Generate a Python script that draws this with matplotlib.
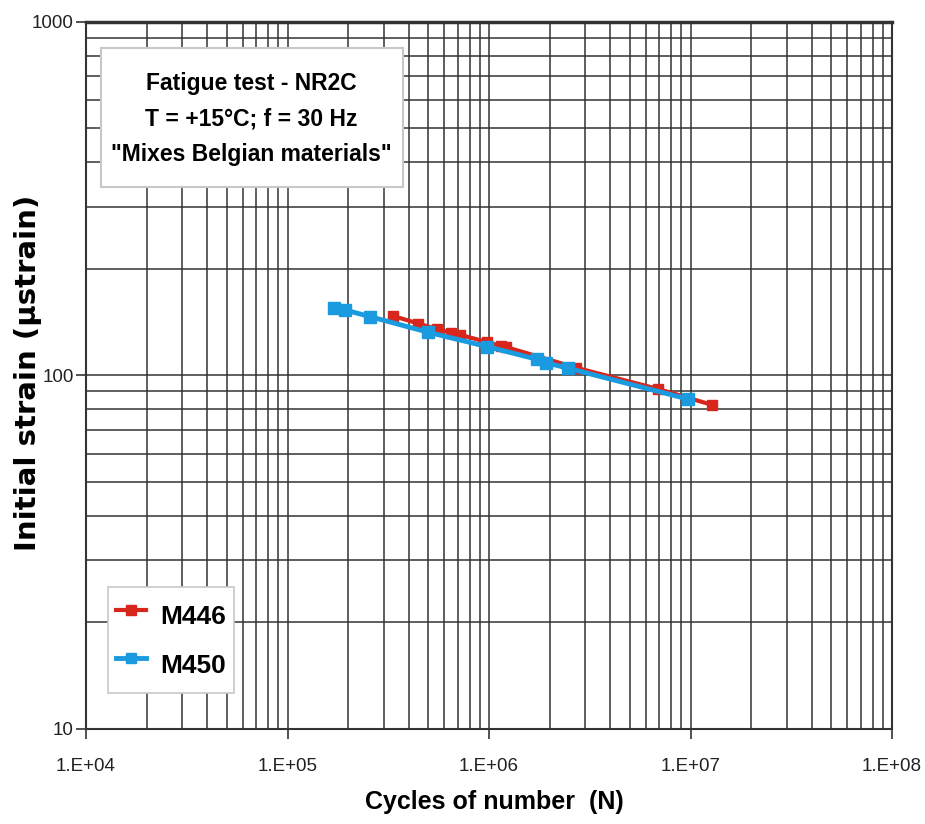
import matplotlib
matplotlib.use("Agg")
import matplotlib.pyplot as plt
from matplotlib.patches import Rectangle
from matplotlib.ticker import LogLocator, FixedLocator, NullFormatter

# data
m446_cycles = [3.35e5, 4.45e5, 5.5e5, 6.45e5, 7.2e5, 9.8e5, 1.14e6, 1.22e6, 2.7e6, 6.9e6, 1.28e7]
m446_strain = [147, 140, 135, 132, 130, 124, 121, 120, 105, 91.4, 82.4]
m450_cycles = [1.71e5, 1.92e5, 2.57e5, 5.0e5, 9.8e5, 1.73e6, 1.91e6, 2.47e6, 9.7e6]
m450_strain = [154.6, 153, 146.4, 132.2, 120.4, 110.9, 108.5, 104.6, 85.6]

x_ticks = [1e4, 1e5, 1e6, 1e7, 1e8]
x_tick_labels = ["1.E+04", "1.E+05", "1.E+06", "1.E+07", "1.E+08"]
y_ticks = [10, 100, 1000]
y_tick_labels = ["10", "100", "1000"]

box_text = 'Fatigue test - NR2C\nT = +15°C; f = 30 Hz\n"Mixes Belgian materials"'

plt.rcParams["font.family"] = ["Liberation Sans", "DejaVu Sans"]

fig = plt.figure(figsize=(9.25, 8.24), dpi=100)
ax = fig.add_axes([0.093, 0.1157, 0.8714, 0.858])

ax.set_xscale("log")
ax.set_yscale("log")
ax.set_xlim(1e4, 1e8)
ax.set_ylim(10, 1000)

# grid: majors and minors, all dark
ax.xaxis.set_major_locator(FixedLocator(x_ticks))
ax.yaxis.set_major_locator(FixedLocator(y_ticks))
ax.xaxis.set_minor_locator(LogLocator(base=10, subs=range(2, 10)))
ax.yaxis.set_minor_locator(LogLocator(base=10, subs=range(2, 10)))
ax.xaxis.set_minor_formatter(NullFormatter())
ax.yaxis.set_minor_formatter(NullFormatter())
ax.grid(True, which="both", color="#333333", linewidth=1.1)
ax.set_axisbelow(True)

ax.set_xticklabels(x_tick_labels, fontsize=13.5, color="#222222")
ax.set_yticklabels(y_tick_labels, fontsize=13.5, color="#222222")
ax.tick_params(which="major", length=7, width=1.2, color="#333333")
ax.tick_params(axis="x", which="major", pad=14)
ax.tick_params(axis="y", which="major", pad=2)
ax.tick_params(which="minor", length=0)
for side in ["left", "right", "bottom"]:
    ax.spines[side].set_linewidth(1.5)
    ax.spines[side].set_color("#333333")
ax.spines["top"].set_linewidth(2.5)
ax.spines["top"].set_color("#333333")

ax.plot(m446_cycles, m446_strain, color="#d9261c", linewidth=3, marker="s",
        markersize=7.5, label="M446")
ax.plot(m450_cycles, m450_strain, color="#1a9be0", linewidth=3.5, marker="s",
        markersize=8.5, label="M450")

ax.set_xlabel("Cycles of number  (N)", fontsize=18, fontweight="bold")
ax.xaxis.set_label_coords(0.506, -0.087)
ax.set_ylabel("Initial strain (µstrain)", fontsize=21, fontweight="bold", family=["DejaVu Sans"])
ax.yaxis.set_label_coords(-0.054, 0.503)

leg = ax.legend(loc="lower left", bbox_to_anchor=(0.027, 0.051), borderaxespad=0,
                prop={"size": 19, "weight": "bold"},
                frameon=True, fancybox=False, handlelength=1.15, handletextpad=0.55,
                handleheight=2.0, borderpad=0.3, labelspacing=0.3, markerscale=0.9)
leg.get_frame().set_edgecolor("#c8c8c8")
leg.get_frame().set_linewidth(1.2)
leg.get_frame().set_alpha(1)

# title box drawn as a rectangle with centred text
ax.add_patch(Rectangle((0.018, 0.766), 0.375, 0.197, transform=ax.transAxes,
                       facecolor="white", edgecolor="#c8c8c8", linewidth=1.5, zorder=5))
ax.text(0.2055, 0.862, box_text, transform=ax.transAxes, ha="center", va="center",
        fontsize=16.5, fontweight="bold", linespacing=1.7, zorder=6)

fig.savefig("out.png", dpi=100, facecolor="white")
